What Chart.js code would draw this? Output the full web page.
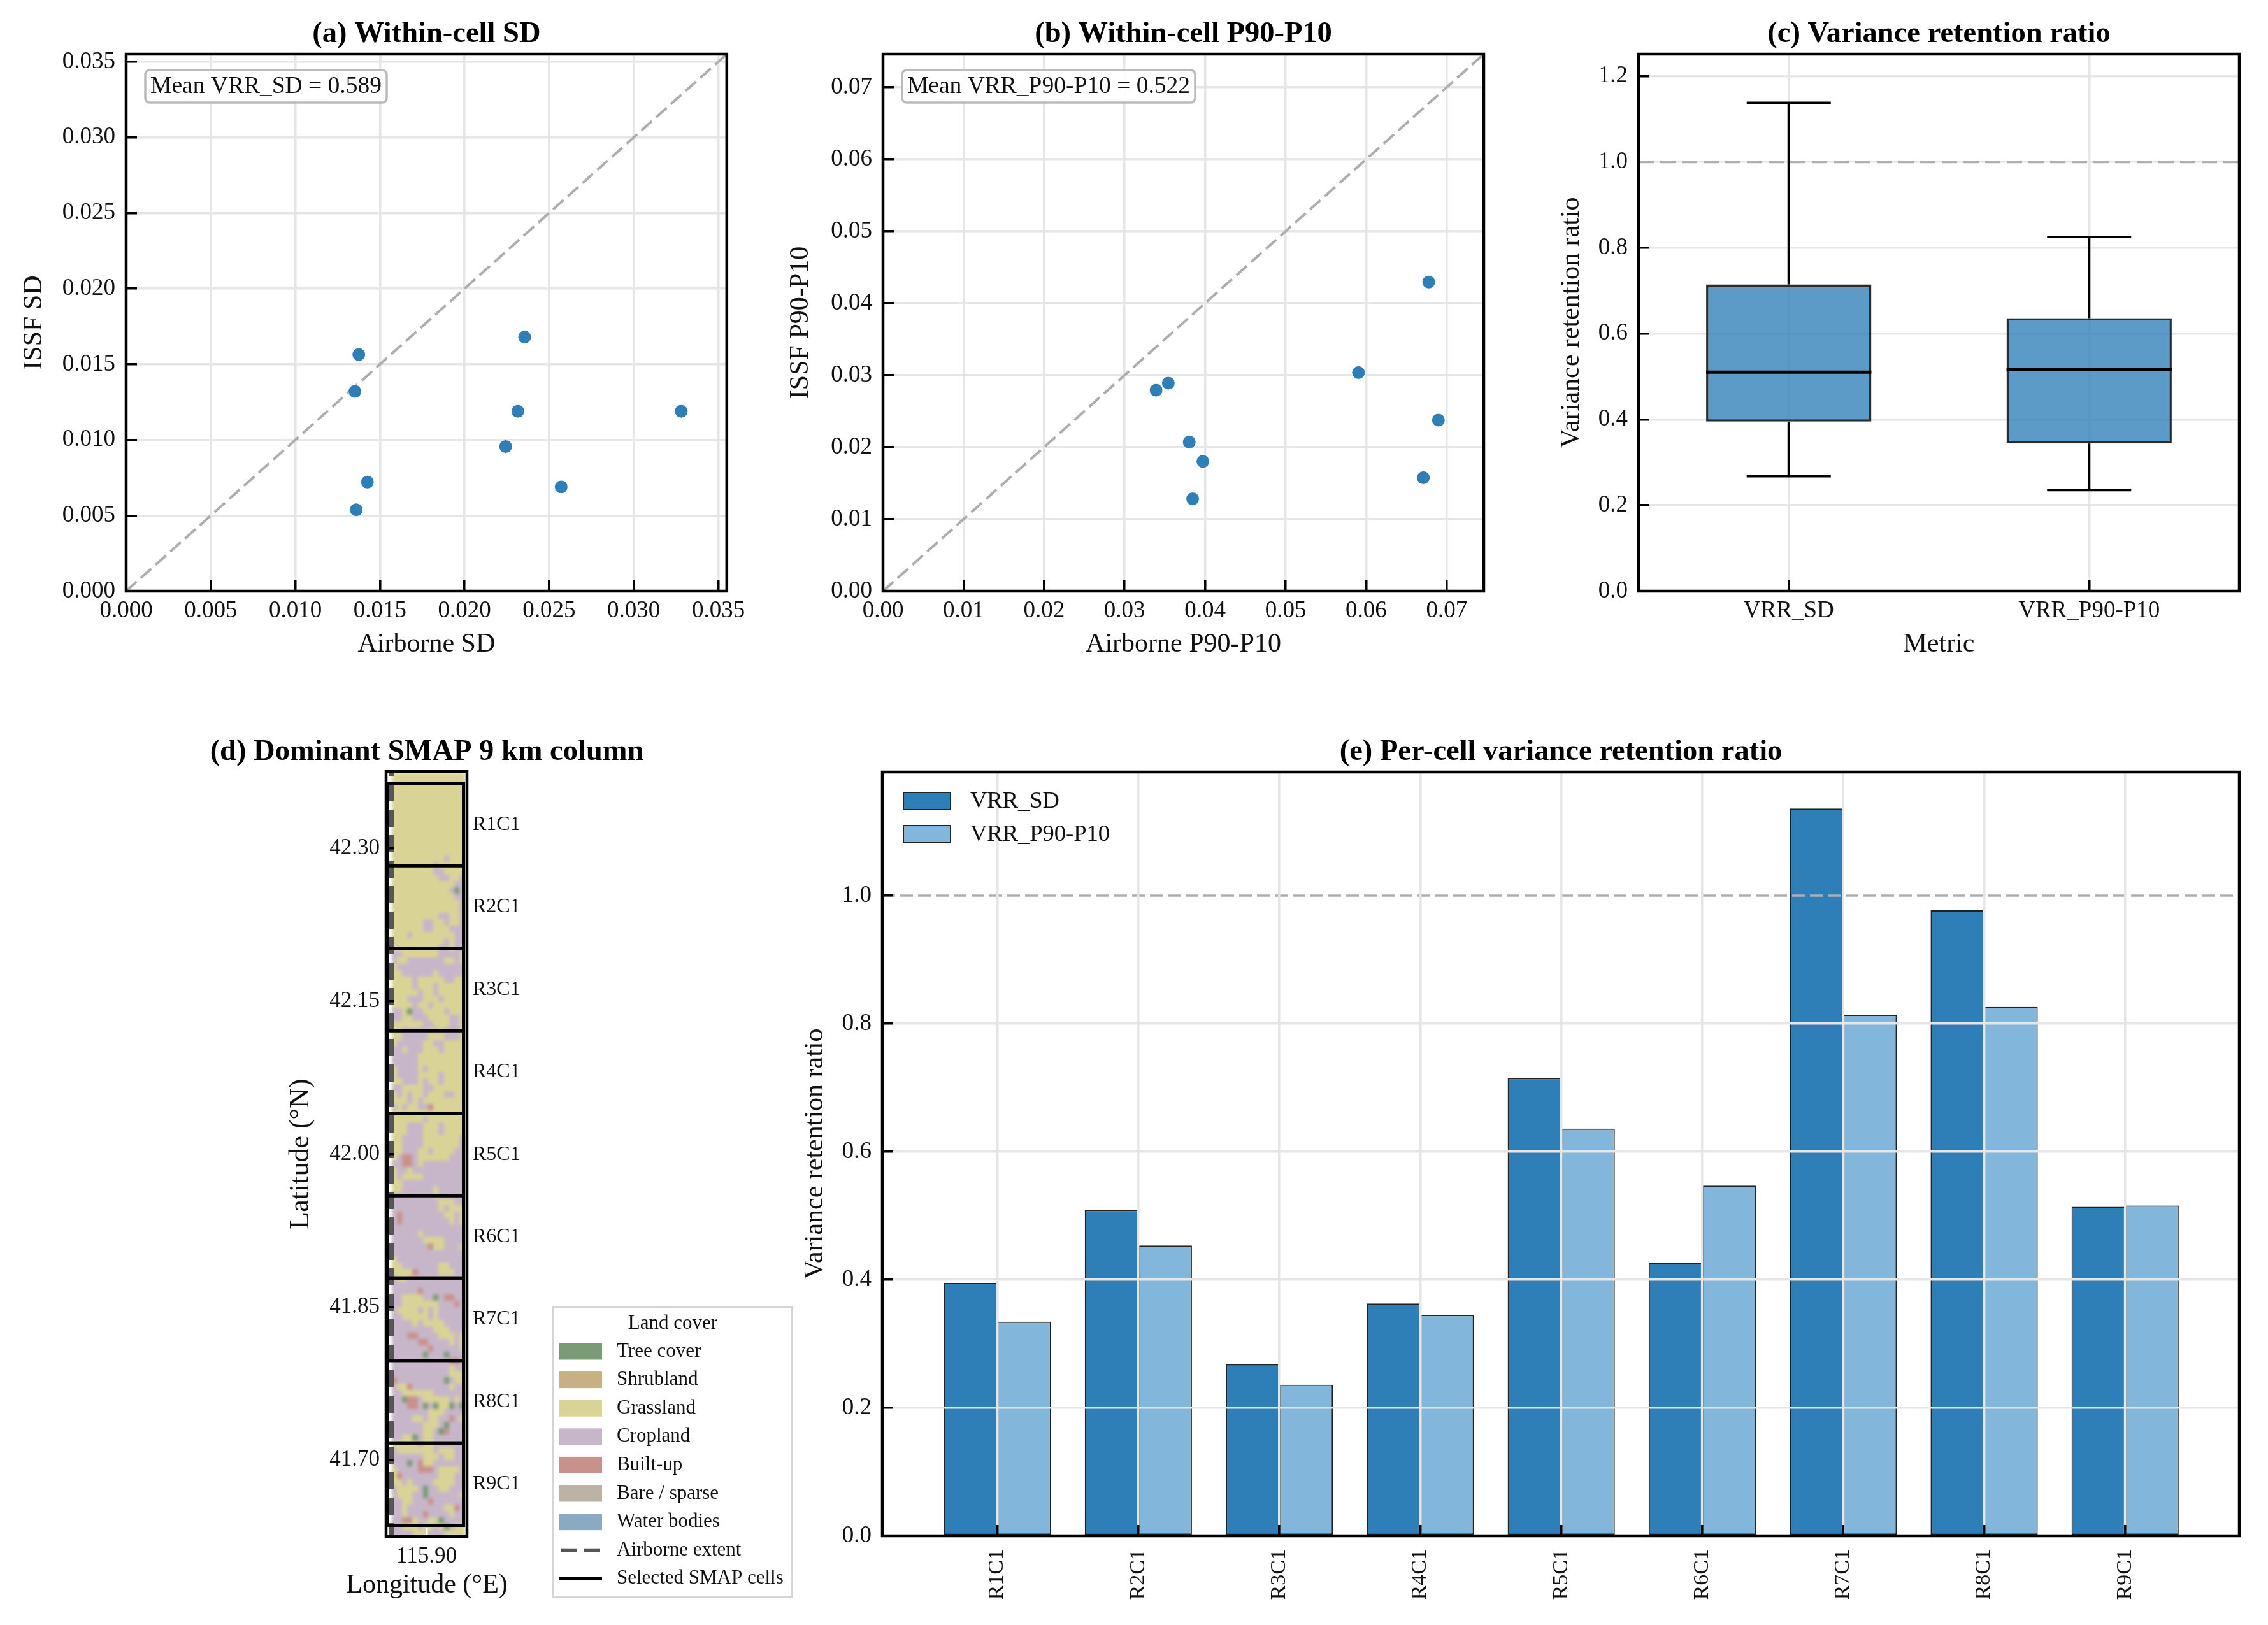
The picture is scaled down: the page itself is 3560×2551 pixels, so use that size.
<!DOCTYPE html>
<html>
<head>
<meta charset="utf-8">
<title>Variance retention</title>
<script src="https://cdn.jsdelivr.net/npm/chart.js@4"></script>
<style>
    html, body { margin: 0; padding: 0; background: #fff; width: 3560px; height: 2551px; overflow: hidden; }
    canvas { position: absolute; }
</style>
</head>
<body>
<script>
const cellNames = ['R1C1', 'R2C1', 'R3C1', 'R4C1', 'R5C1', 'R6C1', 'R7C1', 'R8C1', 'R9C1']
const vrrSd = [0.395, 0.509, 0.268, 0.363, 0.715, 0.4265, 1.136, 0.977, 0.514]
const vrrP90 = [0.3345, 0.4535, 0.236, 0.345, 0.636, 0.547, 0.814, 0.826, 0.516]

const airborneSd = [0.0136, 0.01426, 0.02571, 0.03281, 0.02355, 0.02243, 0.01375, 0.01352, 0.02315]
const issfSd = [0.00538, 0.00721, 0.00689, 0.01189, 0.0168, 0.00956, 0.01564, 0.0132, 0.01189]
const airborneP90 = [0.03845, 0.03972, 0.0671, 0.06897, 0.06776, 0.03803, 0.03543, 0.03391, 0.05904]
const issfP90 = [0.01283, 0.01802, 0.01576, 0.02376, 0.04294, 0.02071, 0.02889, 0.02791, 0.03036]

const sdTicks = [0, 0.005, 0.01, 0.015, 0.02, 0.025, 0.03, 0.035]
const p90Ticks = [0, 0.01, 0.02, 0.03, 0.04, 0.05, 0.06, 0.07]
const ratioTicks = [0, 0.2, 0.4, 0.6, 0.8, 1.0, 1.2]
const latTicks = [41.70, 41.85, 42.00, 42.15, 42.30]
const lonTicks = [115.90]

const boxNames = ['VRR_SD', 'VRR_P90-P10']
const boxLow = [0.268, 0.2355]
const boxQ1 = [0.395, 0.344]
const boxMedian = [0.51, 0.516]
const boxQ3 = [0.7147, 0.636]
const boxHigh = [1.1375, 0.825]

// edges of the nine selected cells, north to south
const cellEdgesLat = [42.3636, 42.2827, 42.2019, 42.121, 42.0402, 41.9593, 41.8785, 41.7976, 41.7168, 41.636]
const cellWest = 115.8516
const cellEast = 115.9457
const airborneLon = 115.8563

const landCoverNames = ['Tree cover', 'Shrubland', 'Grassland', 'Cropland', 'Built-up', 'Bare / sparse', 'Water bodies']
const landCoverCodes = ['T', 'S', 'G', 'C', 'B', 'N', 'W']
const landCoverColors = ['#7a9b76', '#c6b084', '#d9d495', '#c7b6ca', '#c9918c', '#bcb3a6', '#8aa9c3']

// land cover raster, one string per row north to south
const mapNorth = 42.3736
const mapSouth = 41.6249
const mapWest = 115.8571
const mapEast = 115.9476
const landCoverRows = [
    'GGGGGGGGGGGGGG', 'GGGGGGGGGGGGGG', 'GGGGGGGGGGGGGG', 'GGGGGGGGGGGGGG', 'GGGGGGGGGGGGGG',
    'GGGGGGGGGGGGGG', 'GGGGGGGGGGGGGG', 'GGGGGGGGGGGGGG', 'GGGGGGGGGGGGGG', 'GGGGGGGGGGGGGG',
    'GGGGGGGGGGGGGG', 'GGGGGGGGGGGGGG', 'GGGGGGGGGGGGGG', 'GGGGGGGGGGCGGG', 'GGGGGGGGCGGGGG',
    'GGGGGGGGCCGGGG', 'GGGGGGGGGCCGGC', 'GGGGGGGGGGGGCC', 'GGGGGGGGGGGCTC', 'GGGGGGGGGGGGCC',
    'GGGGGGGGGGGGGC', 'GGGGGGGGGGGGGC', 'GGGGGGGGGCCGGC', 'GGGGGGCCGGCGGC', 'GGGGGGCCGGGCCC',
    'GGGCGGGGGGGGCC', 'GGGGGGGGGGCGCC', 'GGGGGGGGGCCGCC', 'CCGGGGGGGCCCCG', 'CGGCCCCCCCGGCG',
    'GCCCCCCCCCCCCC', 'GGCCCCCCGCCCCC', 'GGGGCGGGGGCCGG', 'GGGGCGGGCGGGGG', 'GGGGGCGGCGGGGG',
    'GGGCCCGGGCGGGG', 'GGGGCGGCGGGGGG', 'CCGTCCGGGGCGGG', 'CCGGCCCGGGGCCG', 'GGGGGGCCGGGCCG',
    'GGCCCCCGCGCCCG', 'GGCCCCCGGGCCCG', 'GCCCCCGGCCGGGG', 'CCGCCCGGGCGGGG', 'CCCCCGGGGGGGGG',
    'CCCCCGGGGGGGGG', 'GCCCCGCGGGGGGG', 'GCCCCGGGGCGGGG', 'GGCCCGCGGCGGGG', 'CCGGGGCCGGGGGG',
    'GCGCGGCGGGCCGG', 'GGGCGCGGGGGGGG', 'CGCGGCCBGGGGGG', 'GGGGGGGGGGGGGG', 'GGGGGGCGGGGGGG',
    'GGGCCCGGGCGGGG', 'GGGCCCGGGCGGGG', 'GGCCCCGGGGGGGC', 'GGCCCCGGGGGGGC', 'GGCCCGGCGGGGCC',
    'GCBBCGGGGGGCCC', 'CCBBCGCCCCCCCC', 'GCCGCCCCCCCCCC', 'GCGGGGCCCCCCCC', 'GGCCCCCCCCCCCC',
    'GGCCCCCCGCCCCC', 'CCCCCCCCGCCCCC', 'CCCCCCCCCGGGCC', 'CCCCCCCCCGCGGG', 'CBCCCCCCCCGGCG',
    'CBCCCCCCCCCGCG', 'CCCCCCCCCCCCCC', 'CCCCCGCCCCCCCC', 'CCCCCCGGGGCCCC', 'CCCCCCCBGGCCCG',
    'CCCCCCCCCCCCCC', 'GCCCCCCCCCCCCC', 'GGCCCCCCCGGCCC', 'GGGGBCCCCGGGCC', 'CGGCCCCCCCCCCC',
    'CCCCCCCCCCCCCC', 'CCCCCBCCCCCCCC', 'CCGGGGCCTCBBCC', 'CCGGGGGGGCCCBC', 'CGGGGCGCGCCCCC',
    'CCGGGGGCGCCCCC', 'CCCCGCGGGGCCCC', 'CCCCCCCCGGGCCC', 'CCCBBCCCCGGGCG', 'CCCCCBBCCCCGCG',
    'CCCCCCCBCCCCCG', 'CCCCCCTCCCTCCC', 'CCCCCCCCCCCBBC', 'CCCCCCCCCCCGCC', 'CCCCCCCCCCCGGG',
    'BCCCCCCCCCTCGG', 'CGGBCCCCCCCGCC', 'CCGGGGGGCCCCCC', 'CCTBBCGGGGGCGC', 'CCCBBCTCTGGTCT',
    'CCCCCCCGGGCCCC', 'CCCCGGCGGCCBCG', 'CCCCCCGGGCTCCC', 'CCCCCCGGCTBCCC', 'CCGGTCGGCCCCCC',
    'GGGGGCGGCCCCCC', 'CGGGGGGGCGGGCC', 'CCCCCCGGGCGGCC', 'CCCTCBGGCCCCCC', 'GCCCCBBBCGGGGC',
    'GBCCCCCCCGGGCC', 'GGCGCCCCGGGGCC', 'CGGGGCTCCGGCCC', 'CGGGCCTCCCCCCG', 'CCGGCCCBCCCCCC',
    'CCGCCCCCCCGGBC', 'CCGCCCBCCCCGCC', 'CCBBGCCGGTCCCC', 'CCGGGCGGCGTCGG', 'CCCCGGGCCCGGGG',
]

const serif = 'Liberation Serif'
const ink = '#111'
const blue = '#2e7eb8'
const lightBlue = '#82b7db'
const gridGrey = '#e6e6e6'
const refGrey = '#aeaeae'

Chart.defaults.font.family = serif
Chart.defaults.color = ink
Chart.defaults.animation = false

function makeCanvas(left, top, width, height) {
    const c = document.createElement('canvas')
    c.width = width
    c.height = height
    c.style.left = left + 'px'
    c.style.top = top + 'px'
    c.style.width = width + 'px'
    c.style.height = height + 'px'
    document.body.appendChild(c)
    return c
}

function makeAxis(cfg) {
    const horizontal = cfg.side === 'bottom'
    const gridZ = cfg.gridZ === undefined ? -1 : cfg.gridZ
    return {
        type: 'linear',
        position: cfg.side,
        min: cfg.min,
        max: cfg.max,
        offset: false,
        afterBuildTicks: axis => { axis.ticks = cfg.ticks.map(v => ({ value: v })) },
        afterFit: axis => {
            if (horizontal) axis.height = cfg.size
            else axis.width = cfg.size
        },
        ticks: {
            autoSkip: false,
            maxRotation: cfg.rotation || 0,
            minRotation: cfg.rotation || 0,
            padding: cfg.pad,
            color: ink,
            font: { size: cfg.fontSize || 37, lineHeight: 1 },
            callback: cfg.format,
        },
        grid: {
            color: cfg.gridColor || gridGrey,
            lineWidth: 3.5,
            offset: false,
            z: gridZ,
            drawOnChartArea: cfg.noGrid ? false : true,
            tickLength: -(cfg.tick === undefined ? 17 : cfg.tick),
            tickColor: cfg.tickColor || '#000',
            tickWidth: 3.5,
        },
        // the border needs the value the grid layer computes, so it goes after it
        border: { color: '#000', width: 4, display: cfg.noBorder ? false : true, z: gridZ > 0 ? gridZ + 1 : 0 },
        title: {
            display: !!cfg.title,
            text: cfg.title,
            color: ink,
            font: { size: cfg.titleSize || 42, lineHeight: 1 },
            padding: horizontal ? { top: 0, bottom: cfg.titleGap } : { top: cfg.titleGap, bottom: 0 },
        },
    }
}

function makeTitle(text, fullSize) {
    return {
        display: true,
        text: text,
        color: '#000',
        fullSize: !!fullSize,
        font: { size: 46.5, weight: 'bold', lineHeight: 1 },
        padding: { top: 31, bottom: 7.5 },
    }
}

const framePlugin = {
    id: 'frame',
    afterDraw(chart) {
        const a = chart.chartArea
        const ctx = chart.ctx
        ctx.save()
        ctx.strokeStyle = '#000'
        ctx.lineWidth = 4.5
        ctx.strokeRect(a.left, a.top, a.right - a.left, a.bottom - a.top)
        ctx.restore()
    },
}

function notePlugin(text, width) {
    return {
        id: 'note',
        afterDatasetsDraw(chart) {
            const a = chart.chartArea
            const ctx = chart.ctx
            ctx.save()
            ctx.beginPath()
            ctx.roundRect(a.left + 30, a.top + 25, width, 51, 7)
            ctx.fillStyle = 'rgba(255,255,255,0.9)'
            ctx.fill()
            ctx.strokeStyle = '#bbbbbb'
            ctx.lineWidth = 3.5
            ctx.stroke()
            ctx.fillStyle = ink
            ctx.font = '37.5px "' + serif + '"'
            ctx.textAlign = 'center'
            ctx.textBaseline = 'middle'
            ctx.fillText(text, a.left + 30 + width / 2, a.top + 25 + 26)
            ctx.restore()
        },
    }
}

function zip(xs, ys) {
    return xs.map((x, i) => ({ x: x, y: ys[i] }))
}

function scatterPanel(canvas, cfg) {
    return new Chart(canvas, {
        type: 'scatter',
        data: {
            datasets: [
                {
                    data: zip(cfg.xs, cfg.ys),
                    pointRadius: 10.5,
                    pointBorderWidth: 1,
                    pointBackgroundColor: blue,
                    pointBorderColor: '#fff',
                },
                {
                    data: [{ x: 0, y: 0 }, { x: cfg.max, y: cfg.max }],
                    showLine: true,
                    pointRadius: 0,
                    borderColor: refGrey,
                    borderWidth: 4,
                    borderDash: [22, 9],
                },
            ],
        },
        options: {
            responsive: false,
            layout: { padding: { right: cfg.right } },
            plugins: { legend: { display: false }, tooltip: { enabled: false }, title: makeTitle(cfg.title) },
            scales: {
                x: makeAxis({ side: 'bottom', min: 0, max: cfg.max, ticks: cfg.ticks, format: cfg.format, pad: 30, size: 112, title: cfg.xTitle, titleGap: 7 }),
                y: makeAxis({ side: 'left', min: 0, max: cfg.max, ticks: cfg.ticks, format: cfg.format, pad: 34, size: cfg.yWidth, title: cfg.yTitle, titleGap: cfg.yGap }),
            },
        },
        plugins: [framePlugin, notePlugin(cfg.note, cfg.noteWidth)],
    })
}

scatterPanel(makeCanvas(0, 0, 1200, 1040), {
    title: '(a) Within-cell SD', xs: airborneSd, ys: issfSd, ticks: sdTicks, max: 0.0355,
    format: v => v.toFixed(3), xTitle: 'Airborne SD', yTitle: 'ISSF SD',
    yWidth: 198, yGap: 33, right: 58, note: 'Mean VRR_SD = 0.589', noteWidth: 379,
})

scatterPanel(makeCanvas(1230, 0, 1160, 1040), {
    title: '(b) Within-cell P90-P10', xs: airborneP90, ys: issfP90, ticks: p90Ticks, max: 0.0746,
    format: v => v.toFixed(2), xTitle: 'Airborne P90-P10', yTitle: 'ISSF P90-P10',
    yWidth: 156, yGap: 6, right: 61, note: 'Mean VRR_P90-P10 = 0.522', noteWidth: 460,
})

// panel c: box from a floating bar, whiskers and median as line datasets
const boxLines = []
function boxLine(x1, y1, x2, y2, width) {
    boxLines.push({
        type: 'line',
        order: 0,
        data: [{ x: x1, y: y1 }, { x: x2, y: y2 }],
        borderColor: '#000',
        borderWidth: width,
        pointRadius: 0,
    })
}
boxNames.forEach((name, i) => {
    boxLine(i, boxQ3[i], i, boxHigh[i], 4)
    boxLine(i, boxLow[i], i, boxQ1[i], 4)
    boxLine(i - 0.14, boxHigh[i], i + 0.14, boxHigh[i], 4)
    boxLine(i - 0.14, boxLow[i], i + 0.14, boxLow[i], 4)
    boxLine(i - 0.275, boxMedian[i], i + 0.275, boxMedian[i], 5)
})

new Chart(makeCanvas(2440, 0, 1120, 1040), {
    type: 'bar',
    data: {
        datasets: [
            ...boxLines,
            {
                type: 'line',
                order: 1,
                data: [{ x: -0.5, y: 1 }, { x: 1.5, y: 1 }],
                borderColor: refGrey,
                borderWidth: 4,
                borderDash: [24, 10],
                pointRadius: 0,
            },
            {
                type: 'bar',
                order: 2,
                data: boxNames.map((n, i) => ({ x: i, y: [boxQ1[i], boxQ3[i]] })),
                backgroundColor: 'rgba(46,126,184,0.78)',
                borderColor: '#2b2b2b',
                borderWidth: 3.5,
                borderSkipped: false,
                barPercentage: 0.55,
                categoryPercentage: 1,
            },
        ],
    },
    options: {
        responsive: false,
        layout: { padding: { right: 45 } },
        plugins: { legend: { display: false }, tooltip: { enabled: false }, title: makeTitle('(c) Variance retention ratio') },
        scales: {
            x: makeAxis({ side: 'bottom', min: -0.5, max: 1.5, ticks: [0, 1], format: (v, i) => boxNames[i], pad: 30, size: 112, title: 'Metric', titleGap: 7 }),
            y: makeAxis({ side: 'left', min: 0, max: 1.251, ticks: ratioTicks, format: v => v.toFixed(1), pad: 34, size: 132, title: 'Variance retention ratio', titleGap: 6 }),
        },
    },
    plugins: [framePlugin],
})

// panel d: land cover raster, airborne edge, selected cells
const landCoverPlugin = {
    id: 'landCover',
    beforeDatasetsDraw(chart) {
        const a = chart.chartArea
        const x = chart.scales.x
        const y = chart.scales.y
        const colW = (mapEast - mapWest) / landCoverRows[0].length
        const rowH = (mapNorth - mapSouth) / landCoverRows.length
        const raster = document.createElement('canvas')
        raster.width = chart.width
        raster.height = chart.height
        const rctx = raster.getContext('2d')
        landCoverRows.forEach((row, r) => {
            const top = Math.floor(y.getPixelForValue(mapNorth - r * rowH))
            const bottom = Math.ceil(y.getPixelForValue(mapNorth - (r + 1) * rowH))
            for (let c = 0; c < row.length; c++) {
                const left = Math.floor(x.getPixelForValue(mapWest + c * colW))
                const right = Math.ceil(x.getPixelForValue(mapWest + (c + 1) * colW))
                rctx.fillStyle = landCoverColors[landCoverCodes.indexOf(row[c])]
                rctx.fillRect(left, top, right - left, bottom - top)
            }
        })
        const ctx = chart.ctx
        ctx.save()
        ctx.beginPath()
        ctx.rect(a.left, a.top, a.right - a.left, a.bottom - a.top)
        ctx.clip()
        ctx.filter = 'blur(2.5px)'
        ctx.drawImage(raster, 0, 0)
        ctx.restore()
    },
}

const landLegendPlugin = {
    id: 'landLegend',
    afterDraw(chart) {
        const ctx = chart.ctx
        const left = 868
        const top = 925
        const rowY = i => 994.5 + i * 44.6
        ctx.save()
        ctx.fillStyle = '#fff'
        ctx.fillRect(left, top, 375, 455)
        ctx.strokeStyle = '#d5d5d5'
        ctx.lineWidth = 3.5
        ctx.strokeRect(left, top, 375, 455)
        ctx.fillStyle = ink
        ctx.font = '31px "' + serif + '"'
        ctx.textBaseline = 'middle'
        ctx.textAlign = 'center'
        ctx.fillText('Land cover', left + 188, 951)
        ctx.textAlign = 'left'
        landCoverNames.forEach((name, i) => {
            ctx.fillStyle = landCoverColors[i]
            ctx.fillRect(left + 10, rowY(i) - 13, 67, 26)
            ctx.fillStyle = ink
            ctx.fillText(name, left + 100, rowY(i))
        })
        ctx.strokeStyle = '#555'
        ctx.lineWidth = 6
        ctx.setLineDash([25, 11])
        ctx.beginPath()
        ctx.moveTo(left + 13, rowY(7))
        ctx.lineTo(left + 74, rowY(7))
        ctx.stroke()
        ctx.setLineDash([])
        ctx.strokeStyle = '#000'
        ctx.lineWidth = 5
        ctx.beginPath()
        ctx.moveTo(left + 10, rowY(8))
        ctx.lineTo(left + 77, rowY(8))
        ctx.stroke()
        ctx.fillStyle = ink
        ctx.fillText('Airborne extent', left + 100, rowY(7))
        ctx.fillText('Selected SMAP cells', left + 100, rowY(8))
        ctx.restore()
    },
}

const cellCenters = cellNames.map((n, i) => (cellEdgesLat[i] + cellEdgesLat[i + 1]) / 2)
const cellOutlines = cellNames.map((n, i) => ({
    data: [
        { x: cellWest, y: cellEdgesLat[i] },
        { x: cellEast, y: cellEdgesLat[i] },
        { x: cellEast, y: cellEdgesLat[i + 1] },
        { x: cellWest, y: cellEdgesLat[i + 1] },
        { x: cellWest, y: cellEdgesLat[i] },
    ],
    showLine: true,
    pointRadius: 0,
    borderColor: '#000',
    borderWidth: 5,
}))

new Chart(makeCanvas(0, 1127, 1340, 1424), {
    type: 'scatter',
    data: {
        datasets: [
            ...cellOutlines,
            {
                data: [{ x: airborneLon, y: 42.3752 }, { x: airborneLon, y: 41.6251 }],
                showLine: true,
                pointRadius: 0,
                borderColor: '#555',
                borderWidth: 8,
                borderDash: [27, 13],
                borderDashOffset: 20,
            },
        ],
    },
    options: {
        responsive: false,
        plugins: {
            legend: { display: false },
            tooltip: { enabled: false },
            title: Object.assign(makeTitle('(d) Dominant SMAP 9 km column', true), { padding: { top: 31, bottom: 6.5 } }),
            // the x axis is too narrow for its own title, so this one sits under it
            subtitle: {
                display: true,
                position: 'bottom',
                text: 'Longitude (°E)',
                color: ink,
                font: { size: 42, lineHeight: 1 },
                padding: { top: 2, bottom: 41 },
            },
        },
        scales: {
            x: makeAxis({ side: 'bottom', min: 115.85, max: 115.95, ticks: lonTicks, format: v => v.toFixed(2), pad: 28, size: 54, fontSize: 35, noGrid: true, gridZ: 1, tick: 14, tickColor: '#fff' }),
            y: makeAxis({ side: 'left', min: 41.6251, max: 42.3752, ticks: latTicks, format: v => v.toFixed(2), pad: 23, size: 606, fontSize: 35, noGrid: true, gridZ: 1, tick: 13, title: 'Latitude (°N)', titleSize: 44, titleGap: 450 }),
            y2: makeAxis({ side: 'right', min: 41.6251, max: 42.3752, ticks: cellCenters, format: (v, i) => cellNames[i], pad: 9, size: 607, fontSize: 32, noGrid: true, noBorder: true, tick: 0 }),
        },
    },
    plugins: [landCoverPlugin, framePlugin, landLegendPlugin],
})

// panel e
const perCellLegendPlugin = {
    id: 'perCellLegend',
    afterDraw(chart) {
        const a = chart.chartArea
        const ctx = chart.ctx
        const entries = [['VRR_SD', blue], ['VRR_P90-P10', lightBlue]]
        ctx.save()
        ctx.font = '36.5px "' + serif + '"'
        ctx.textBaseline = 'middle'
        entries.forEach((e, i) => {
            const top = a.top + 32 + i * 52
            ctx.fillStyle = e[1]
            ctx.fillRect(a.left + 33, top, 74, 27)
            ctx.strokeStyle = '#222'
            ctx.lineWidth = 2
            ctx.strokeRect(a.left + 33, top, 74, 27)
            ctx.fillStyle = ink
            ctx.fillText(e[0], a.left + 138, top + 14)
        })
        ctx.restore()
    },
}

function cellBars(values, color) {
    return {
        type: 'bar',
        order: 1,
        data: values.map((v, i) => ({ x: i, y: v })),
        backgroundColor: color,
        borderColor: '#222',
        borderWidth: 2,
        borderSkipped: false,
        barPercentage: 1,
        categoryPercentage: 0.76,
    }
}

new Chart(makeCanvas(1230, 1127, 2330, 1424), {
    type: 'bar',
    data: {
        datasets: [
            {
                type: 'line',
                order: 0,
                data: [{ x: -0.816, y: 1 }, { x: 8.81, y: 1 }],
                borderColor: refGrey,
                borderWidth: 3.5,
                borderDash: [20, 8],
                pointRadius: 0,
            },
            cellBars(vrrSd, blue),
            cellBars(vrrP90, lightBlue),
        ],
    },
    options: {
        responsive: false,
        layout: { padding: { right: 45 } },
        plugins: { legend: { display: false }, tooltip: { enabled: false }, title: makeTitle('(e) Per-cell variance retention ratio') },
        scales: {
            x: makeAxis({ side: 'bottom', min: -0.816, max: 8.81, ticks: cellNames.map((n, i) => i), format: (v, i) => cellNames[i], pad: 38, size: 140, fontSize: 34, rotation: 90, gridZ: 1 }),
            // no grid line at 1.0: the dashed reference line has to stay visible there
            y: makeAxis({ side: 'left', min: 0, max: 1.193, ticks: ratioTicks.slice(0, 6), format: v => v.toFixed(1), pad: 34, size: 155, gridZ: 1, gridColor: c => (c.tick && c.tick.value === 1 ? 'rgba(0,0,0,0)' : gridGrey), title: 'Variance retention ratio', titleGap: 29 }),
        },
    },
    plugins: [framePlugin, perCellLegendPlugin],
})
</script>
</body>
</html>
